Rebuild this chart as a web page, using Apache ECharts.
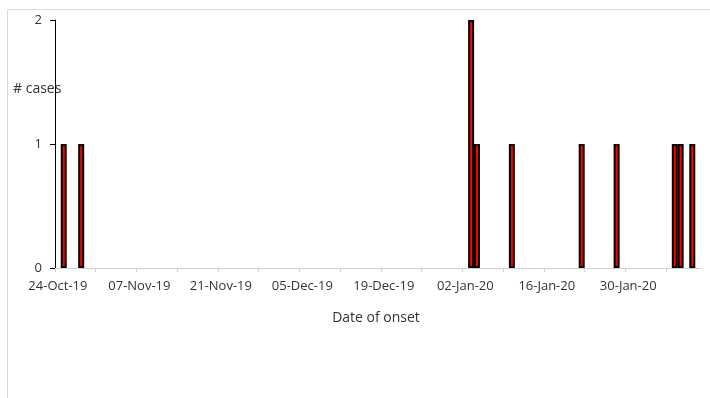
<!DOCTYPE html>
<html>
<head>
<meta charset="utf-8">
<style>
  html, body { margin: 0; padding: 0; background: #ffffff; }
  #chart { width: 710px; height: 398px; }
</style>
<script src="https://cdn.jsdelivr.net/npm/echarts@6/dist/echarts.min.js"></script>
</head>
<body>
<div id="chart"></div>
<script>
// Epi curve: cases by date of onset
const axisStartDate = '2019-10-24';
const axisEndDate = '2020-02-12';
const onsetDates = ['2019-10-25', '2019-10-28', '2020-01-04', '2020-01-03', '2020-01-10',
                    '2020-01-22', '2020-01-28', '2020-02-07', '2020-02-08', '2020-02-10'];
const caseCounts = [1, 1, 1, 2, 1, 1, 1, 1, 1, 1];
const tickLabels = ['24-Oct-19', '07-Nov-19', '21-Nov-19', '05-Dec-19',
                    '19-Dec-19', '02-Jan-20', '16-Jan-20', '30-Jan-20'];
const yTicks = [0, 1, 2];

const DAY = 86400000;
const dayIndex = s => Math.round((Date.parse(s + 'T00:00:00Z') - Date.parse(axisStartDate + 'T00:00:00Z')) / DAY);
const axisDays = dayIndex(axisEndDate);

// each bar sits in the middle of its day slot
const barData = onsetDates.map((d, i) => [dayIndex(d) + 0.5, caseCounts[i]]);

// weekly tick marks at day boundaries; fortnightly date labels at the middle of the day
const weekTicks = [];
for (let v = 0; v < axisDays; v += 7) weekTicks.push(v);
const labelTicks = tickLabels.map((_, i) => i * 14 + 0.5);

const textColor = '#333333';
const font = '"Open Sans", "Noto Sans", sans-serif';

const chart = echarts.init(document.getElementById('chart'), null, { renderer: 'canvas' });
chart.setOption({
  animation: false,
  grid: { left: 55, top: 20, right: 9, bottom: 130, containLabel: false },
  xAxis: {
    type: 'value',
    min: 0,
    max: axisDays,
    axisLine: { show: true, lineStyle: { color: '#d0d0d0', width: 1 } },
    axisTick: { show: true, length: 4, lineStyle: { color: '#d0d0d0' }, customValues: weekTicks },
    axisLabel: {
      customValues: labelTicks,
      formatter: v => tickLabels[Math.round((v - 0.5) / 14)] || '',
      color: textColor, fontSize: 13, fontFamily: font, margin: 12
    },
    splitLine: { show: false }
  },
  yAxis: {
    type: 'value',
    min: yTicks[0],
    max: yTicks[yTicks.length - 1],
    interval: 1,
    axisLine: { show: true, lineStyle: { color: '#000000', width: 1 } },
    axisTick: { show: true, length: 5, lineStyle: { color: '#000000' } },
    axisLabel: { color: textColor, fontSize: 13, fontFamily: font, margin: 13 },
    splitLine: { show: false }
  },
  series: [{
    type: 'bar',
    data: barData,
    barWidth: 6,
    itemStyle: { color: '#ff0000', borderColor: '#000000', borderWidth: 2 }
  }],
  graphic: [
    {
      type: 'rect', silent: true, z: -1,
      shape: { x: 7.5, y: 9.5, width: 720, height: 420 },
      style: { fill: 'none', stroke: '#d9d9d9', lineWidth: 1 }
    },
    {
      type: 'text', x: 13, y: 89,
      style: { text: '# cases', fill: textColor, font: '14px ' + font,
               align: 'left', verticalAlign: 'middle' }
    },
    {
      type: 'text', x: 376, y: 318,
      style: { text: 'Date of onset', fill: textColor, font: '14px ' + font,
               align: 'center', verticalAlign: 'middle' }
    }
  ]
});
</script>
</body>
</html>
